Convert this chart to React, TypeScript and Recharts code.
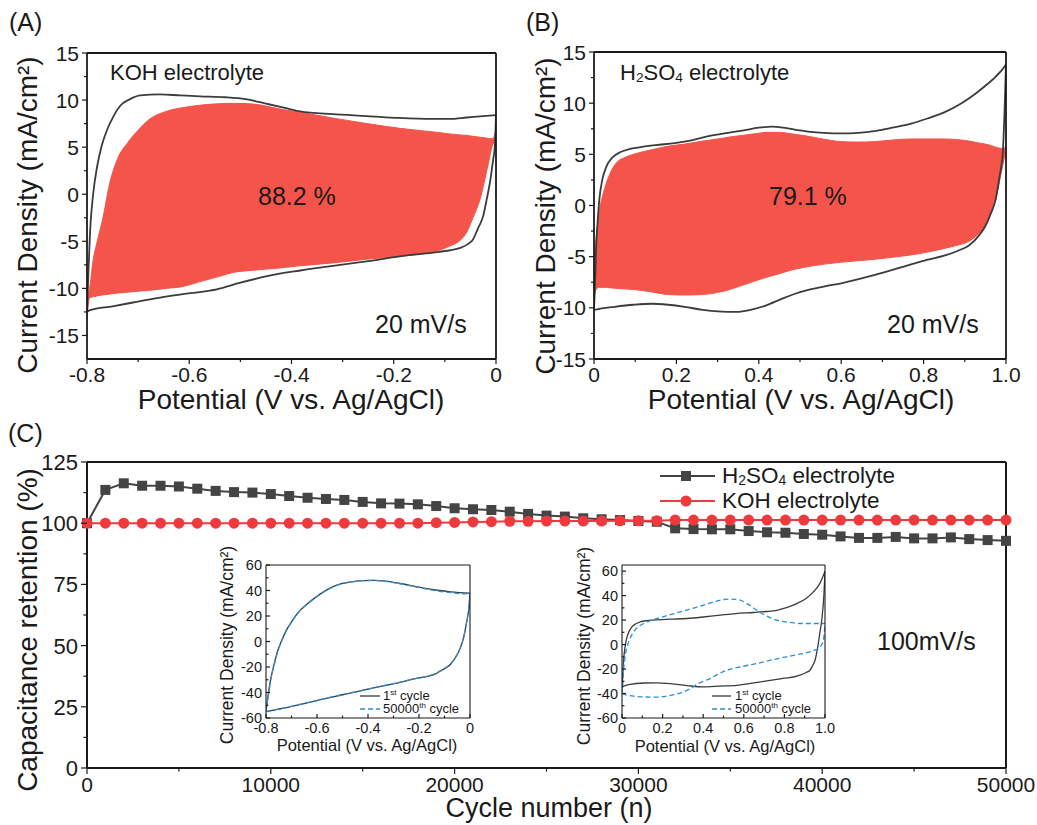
import React from 'react'
import { ComposedChart, Line, Area, XAxis, YAxis, ReferenceLine } from 'recharts'

const FONT = '"Liberation Sans", Arial, Helvetica, sans-serif'
const INK = '#1a1a1a'
const LOOP = '#3c3c3c'
const RED = '#f5544b'
const DOT_RED = '#ee3a3d'
const GREY = '#444444'
const BLUE = '#2a8fd8'

type P = [number, number]
type B = [number, number, number]

// (A) KOH 20 mV/s, first sweep: upper / lower branch, [V, mA/cm2]
const aTop: P[] = [
  [-0.8, -12.5], [-0.797, -8], [-0.794, -4], [-0.788, 0], [-0.78, 3], [-0.771, 5.2], [-0.761, 6.8],
  [-0.748, 8.3], [-0.735, 9.4], [-0.716, 10.1], [-0.696, 10.5], [-0.657, 10.6], [-0.618, 10.5],
  [-0.579, 10.4], [-0.53, 10.3], [-0.49, 10.1], [-0.448, 9.6], [-0.415, 9.2], [-0.383, 8.8],
  [-0.32, 8.5], [-0.252, 8.3], [-0.19, 8.1], [-0.123, 8.0], [-0.09, 8.0], [-0.057, 8.15], [-0.025, 8.3], [0, 8.4],
]
const aBottom: P[] = [
  [-0.8, -12.5], [-0.794, -12.3], [-0.75, -11.9], [-0.71, -11.5], [-0.66, -11.0], [-0.612, -10.6],
  [-0.58, -10.4], [-0.546, -10.1], [-0.5, -9.4], [-0.448, -8.7], [-0.383, -8.1], [-0.319, -7.6],
  [-0.25, -7.1], [-0.188, -6.6], [-0.123, -6.2], [-0.09, -5.95], [-0.07, -5.7], [-0.055, -5.3],
  [-0.045, -4.8], [-0.035, -3.6], [-0.025, -2.3], [-0.018, -0.5], [-0.012, 1.2], [-0.006, 3.5],
  [-0.002, 5.3], [0, 8.4],
]
// (A) retained area: [V, low, high]
const aBand: B[] = [
  [-0.8, -13.3, -11.0], [-0.795, -11.0, -10.0], [-0.788, -10.9, -7.0], [-0.78, -10.8, -5.0],
  [-0.77, -10.7, -2.8], [-0.755, -10.6, 1.3], [-0.74, -10.5, 3.8], [-0.72, -10.4, 5.5],
  [-0.7, -10.3, 6.8], [-0.677, -10.2, 8.0], [-0.645, -10.0, 8.8], [-0.612, -9.8, 9.2],
  [-0.58, -9.3, 9.45], [-0.546, -8.8, 9.6], [-0.514, -8.3, 9.65], [-0.48, -8.1, 9.6],
  [-0.417, -7.8, 9.0], [-0.383, -7.6, 8.7], [-0.32, -7.3, 8.1], [-0.252, -6.9, 7.5],
  [-0.188, -6.6, 7.0], [-0.154, -6.4, 6.8], [-0.12, -6.1, 6.6], [-0.09, -5.5, 6.4],
  [-0.07, -4.9, 6.3], [-0.057, -4.0, 6.25], [-0.045, -2.5, 6.15], [-0.031, -0.5, 6.05],
  [-0.016, 3.0, 5.95], [-0.006, 5.3, 5.9], [0, 5.6, 7.0],
]

// (B) H2SO4 20 mV/s
const bTop: P[] = [
  [0, -10.2], [0.003, -7], [0.005, -4.3], [0.009, -1.5], [0.013, 0.6], [0.02, 2.5], [0.03, 3.8],
  [0.045, 4.7], [0.063, 5.2], [0.085, 5.5], [0.113, 5.7], [0.15, 5.9], [0.196, 6.1], [0.24, 6.4],
  [0.281, 6.8], [0.325, 7.1], [0.364, 7.35], [0.4, 7.6], [0.432, 7.7], [0.46, 7.6], [0.49, 7.4],
  [0.525, 7.2], [0.558, 7.1], [0.6, 7.05], [0.641, 7.1], [0.685, 7.3], [0.724, 7.6], [0.77, 8.0],
  [0.809, 8.5], [0.85, 9.1], [0.892, 10.0], [0.925, 10.9], [0.95, 11.7], [0.975, 12.6], [0.997, 13.6], [1.0, 13.8],
]
const bBottom: P[] = [
  [0, -10.2], [0.013, -10.1], [0.05, -9.9], [0.096, -9.7], [0.14, -9.6], [0.18, -9.7], [0.22, -9.9],
  [0.264, -10.2], [0.3, -10.35], [0.347, -10.4], [0.38, -10.2], [0.415, -9.8], [0.457, -9.1],
  [0.49, -8.6], [0.525, -8.2], [0.56, -7.9], [0.6, -7.6], [0.68, -6.8], [0.766, -5.8], [0.81, -5.3],
  [0.85, -4.9], [0.885, -4.4], [0.91, -3.9], [0.937, -2.8], [0.95, -2.0], [0.963, -0.8], [0.975, 0.6],
  [0.985, 3.0], [0.992, 5.0], [1.0, 13.8],
]
const bBand: B[] = [
  [0, -9.0, -5.0], [0.005, -8.2, -3.3], [0.013, -8.0, -0.5], [0.02, -8.0, 0.8], [0.03, -8.0, 2.2],
  [0.042, -8.05, 3.4], [0.055, -8.1, 4.2], [0.075, -8.15, 4.7], [0.096, -8.2, 5.0], [0.14, -8.45, 5.45],
  [0.18, -8.7, 5.8], [0.22, -8.75, 6.0], [0.264, -8.7, 6.3], [0.3, -8.5, 6.5], [0.33, -8.2, 6.7],
  [0.36, -7.8, 6.85], [0.389, -7.4, 7.0], [0.42, -7.0, 7.15], [0.447, -6.7, 7.15], [0.48, -6.3, 7.0],
  [0.515, -6.0, 6.8], [0.555, -5.75, 6.5], [0.598, -5.55, 6.25], [0.64, -5.4, 6.2], [0.683, -5.25, 6.25],
  [0.725, -5.05, 6.4], [0.766, -4.85, 6.5], [0.81, -4.55, 6.5], [0.85, -4.2, 6.5], [0.88, -3.9, 6.45],
  [0.91, -3.5, 6.3], [0.935, -2.7, 6.1], [0.95, -2.0, 6.0], [0.965, -0.6, 5.85], [0.975, 0.6, 5.7],
  [0.985, 2.5, 5.6], [0.992, 3.9, 5.55], [1.0, 5.3, 5.8],
]

// (C) cycling, 100 mV/s
const cycles = [
  0, 1000, 2000, 3000, 4000, 5000, 6000, 7000, 8000, 9000, 10000, 11000, 12000, 13000, 14000, 15000,
  16000, 17000, 18000, 19000, 20000, 21000, 22000, 23000, 24000, 25000, 26000, 27000, 28000, 29000,
  30000, 31000, 32000, 33000, 34000, 35000, 36000, 37000, 38000, 39000, 40000, 41000, 42000, 43000,
  44000, 45000, 46000, 47000, 48000, 49000, 50000,
]
const h2so4Ret = [
  100, 113.6, 116.3, 115.3, 115.3, 115.0, 114.1, 113.2, 112.7, 112.5, 111.9, 111.1, 110.4, 109.9,
  109.5, 108.7, 108.1, 108.0, 107.7, 107.0, 106.1, 105.7, 105.4, 104.7, 103.8, 103.1, 102.7, 102.0,
  101.6, 101.3, 100.9, 100.6, 97.9, 97.6, 97.5, 97.5, 96.8, 96.3, 96.1, 95.6, 95.3, 94.6, 94.0,
  94.0, 94.4, 93.8, 93.8, 94.2, 93.5, 93.1, 92.8,
]
const kohRet = [
  100, 100, 100, 100, 100, 100, 100, 100, 100, 100, 100, 100, 100, 100, 100, 100, 100, 100, 100,
  100.2, 100.3, 100.5, 100.6, 100.8, 100.8, 100.9, 100.9, 100.9, 100.9, 101.0, 101.0, 101.0,
  101.3, 101.3, 101.3, 101.3, 101.3, 101.3, 101.3, 101.3, 101.3, 101.3, 101.3, 101.3, 101.3,
  101.3, 101.3, 101.3, 101.3, 101.3, 101.3,
]

// inset 1: KOH 100 mV/s, 1st and 50000th cycle
const i1FirstTop: P[] = [
  [-0.8, -55], [-0.79, -40], [-0.78, -28], [-0.767, -17], [-0.754, -7.3], [-0.738, 1], [-0.721, 8.5],
  [-0.695, 17], [-0.668, 24], [-0.635, 30], [-0.603, 35], [-0.57, 39.5], [-0.537, 43], [-0.5, 45.5],
  [-0.458, 47], [-0.42, 47.8], [-0.379, 48], [-0.33, 47.3], [-0.274, 45.5], [-0.22, 43.5],
  [-0.168, 41.5], [-0.12, 40], [-0.077, 39], [-0.04, 38.3], [0, 38],
]
const i1FirstBottom: P[] = [
  [-0.8, -55], [-0.735, -52.5], [-0.668, -49.5], [-0.6, -46.3], [-0.537, -43.4], [-0.47, -40.5],
  [-0.405, -37.6], [-0.34, -34.8], [-0.274, -32], [-0.21, -29], [-0.17, -27.5], [-0.142, -26],
  [-0.11, -22.5], [-0.077, -18], [-0.055, -12], [-0.037, -4.6], [-0.025, 3], [-0.017, 11],
  [-0.008, 21], [-0.004, 27], [0, 38],
]
const i1LastTop: P[] = [
  [-0.8, -55], [-0.79, -40.5], [-0.78, -28.5], [-0.767, -17.5], [-0.754, -7.8], [-0.738, 0.6], [-0.721, 8.2],
  [-0.695, 16.8], [-0.668, 23.8], [-0.635, 29.8], [-0.603, 34.8], [-0.57, 39.3], [-0.537, 42.8], [-0.5, 45.4],
  [-0.458, 46.9], [-0.42, 47.7], [-0.379, 47.9], [-0.33, 47.2], [-0.274, 45.3], [-0.22, 43.2],
  [-0.168, 41.0], [-0.12, 39.4], [-0.077, 38.3], [-0.04, 37.5], [0, 37.3],
]
const i1LastBottom: P[] = [
  [-0.8, -55], [-0.735, -52.4], [-0.668, -49.4], [-0.6, -46.2], [-0.537, -43.3], [-0.47, -40.4],
  [-0.405, -37.5], [-0.34, -34.7], [-0.274, -31.9], [-0.21, -28.9], [-0.17, -27.3], [-0.142, -25.7],
  [-0.11, -22.2], [-0.077, -17.6], [-0.055, -11.6], [-0.037, -4.2], [-0.025, 3.3], [-0.017, 11.2],
  [-0.008, 21], [-0.004, 27], [0, 37.3],
]

// inset 2: H2SO4 100 mV/s, 1st and 50000th cycle
const i2FirstTop: P[] = [
  [0, -35], [0.004, -25], [0.008, -12.8], [0.015, -2], [0.025, 6.3], [0.036, 11], [0.049, 14.5],
  [0.068, 17], [0.09, 18.5], [0.12, 19.5], [0.156, 20], [0.24, 20.7], [0.32, 21.3], [0.4, 22.5],
  [0.484, 24], [0.56, 25.3], [0.648, 26.2], [0.71, 27], [0.762, 28], [0.81, 30.2], [0.861, 33.5],
  [0.905, 37.5], [0.943, 43], [0.975, 50], [1.0, 60],
]
const i2FirstBottom: P[] = [
  [0, -35], [0.008, -34], [0.04, -32.5], [0.107, -31.4], [0.17, -31.3], [0.238, -31.9], [0.32, -33.5],
  [0.402, -34.6], [0.48, -34], [0.566, -33.3], [0.65, -31.3], [0.73, -29.2], [0.8, -27.5], [0.85, -26.3],
  [0.877, -25], [0.905, -23], [0.926, -21], [0.94, -17], [0.951, -12.8], [0.96, -6], [0.967, 0.8],
  [0.975, 10], [0.984, 20], [0.995, 41.7], [1.0, 60],
]
const i2LastTop: P[] = [
  [0, -40], [0.004, -32], [0.008, -21], [0.015, -10], [0.025, -1.9], [0.04, 5], [0.057, 10.4],
  [0.08, 14.5], [0.107, 17.2], [0.14, 19.5], [0.172, 21.3], [0.23, 24], [0.287, 26.7], [0.345, 29.5],
  [0.402, 32.2], [0.45, 34.8], [0.5, 36.8], [0.54, 37.2], [0.582, 36.3], [0.62, 33], [0.664, 28],
  [0.71, 23.5], [0.762, 20], [0.82, 18.2], [0.893, 17.2], [0.95, 17.2], [1.0, 17.2],
]
const i2LastBottom: P[] = [
  [0, -40], [0.008, -40.6], [0.05, -42], [0.107, -42.8], [0.17, -43], [0.238, -41.5], [0.29, -39.5],
  [0.336, -36], [0.38, -31.5], [0.434, -27.8], [0.475, -24], [0.516, -21], [0.59, -18], [0.664, -15.5],
  [0.74, -12.5], [0.811, -10], [0.87, -8], [0.926, -6], [0.95, -4.5], [0.967, -3.3], [0.98, -1],
  [0.992, 3.5], [1.0, 17.2],
]

// ticks
const cvYMajor = [15, 10, 5, 0, -5, -10, -15]
const cvYMinor = [12.5, 7.5, 2.5, -2.5, -7.5, -12.5]
const cvYLabels = ['15', '10', '5', '0', '-5', '-10', '-15']
const kohXMajor = [-0.8, -0.6, -0.4, -0.2, 0]
const kohXMinor = [-0.7, -0.5, -0.3, -0.1]
const kohXLabels = ['-0.8', '-0.6', '-0.4', '-0.2', '0']
const acidXMajor = [0, 0.2, 0.4, 0.6, 0.8, 1.0]
const acidXMinor = [0.1, 0.3, 0.5, 0.7, 0.9]
const acidXLabels = ['0', '0.2', '0.4', '0.6', '0.8', '1.0']
const insetYMajor = [60, 40, 20, 0, -20, -40, -60]
const insetYMinor = [50, 30, 10, -10, -30, -50]
const insetYLabels = ['60', '40', '20', '0', '-20', '-40', '-60']
const cXMajor = [0, 10000, 20000, 30000, 40000, 50000]
const cXMinor = [5000, 15000, 25000, 35000, 45000]
const cXLabels = ['0', '10000', '20000', '30000', '40000', '50000']
const cYMajor = [0, 25, 50, 75, 100, 125]
const cYMinor = [12.5, 37.5, 62.5, 87.5, 112.5]
const cYLabels = ['0', '25', '50', '75', '100', '125']

const pts = (a: P[]) => a.map(([x, y]) => ({ x, y }))
const band = (a: B[]) => a.map(([x, lo, hi]) => ({ x, r: [lo, hi] }))

type TickCfg = { side: 'x' | 'y'; major: number[]; labels: string[]; font: number; len: number; inward?: boolean }

// one tick renderer per axis: tick line (short for minor) plus label for major values
function makeTick(c: TickCfg) {
  return (props: any) => {
    const { x, y, payload, index } = props
    const v = payload.value as number
    const i = c.major.findIndex((m) => Math.abs(m - v) < 1e-6)
    const l = i >= 0 ? c.len : c.len * 0.6
    const d = c.inward ? -1 : 1
    if (c.side === 'x') {
      const gap = c.inward ? 4 : c.len + 2.5
      return (
        <g key={`x${index}`}>
          <line x1={x} y1={y} x2={x} y2={y + d * l} stroke={INK} strokeWidth={1.2} />
          {i >= 0 && (
            <text x={x} y={y + gap + c.font * 0.76} textAnchor="middle" fontSize={c.font} fontFamily={FONT} fill={INK}>
              {c.labels[i]}
            </text>
          )}
        </g>
      )
    }
    const gap = c.inward ? 4 : c.len + 3
    return (
      <g key={`y${index}`}>
        <line x1={x} y1={y} x2={x - d * l} y2={y} stroke={INK} strokeWidth={1.2} />
        {i >= 0 && (
          <text x={x - gap} y={y + c.font * 0.36} textAnchor="end" fontSize={c.font} fontFamily={FONT} fill={INK}>
            {c.labels[i]}
          </text>
        )}
      </g>
    )
  }
}

type Loop = { top: P[]; bottom: P[]; color: string; dash?: string; w: number }

type CvProps = {
  left: number; top: number; width: number; height: number
  margin: { top: number; right: number; bottom: number; left: number }
  yW: number; xH: number
  xDomain: [number, number]; yDomain: [number, number]
  xMajor: number[]; xMinor: number[]; xLabels: string[]
  yMajor: number[]; yMinor: number[]; yLabels: string[]
  font: number; len: number; inward?: boolean; frame: number
  fill?: B[]; loops: Loop[]
}

function CvPlot(p: CvProps) {
  return (
    <div style={{ position: 'absolute', left: p.left, top: p.top }}>
      <ComposedChart width={p.width} height={p.height} margin={p.margin} data={p.fill ? band(p.fill) : []}>
        <XAxis
          type="number" dataKey="x" domain={p.xDomain} allowDataOverflow
          ticks={[...p.xMajor, ...p.xMinor]} interval={0} height={p.xH}
          tickSize={0} tickMargin={0} tickLine={false}
          axisLine={{ stroke: INK, strokeWidth: p.frame }}
          tick={makeTick({ side: 'x', major: p.xMajor, labels: p.xLabels, font: p.font, len: p.len, inward: p.inward })}
        />
        <YAxis
          type="number" domain={p.yDomain} allowDataOverflow
          ticks={[...p.yMajor, ...p.yMinor]} interval={0} width={p.yW}
          tickSize={0} tickMargin={0} tickLine={false}
          axisLine={{ stroke: INK, strokeWidth: p.frame }}
          tick={makeTick({ side: 'y', major: p.yMajor, labels: p.yLabels, font: p.font, len: p.len, inward: p.inward })}
        />
        {p.fill && (
          <Area dataKey="r" type="monotone" fill={RED} fillOpacity={1} stroke={RED} strokeWidth={1}
            isAnimationActive={false} dot={false} activeDot={false} />
        )}
        {p.loops.flatMap((l, i) => [
          <Line key={`t${i}`} data={pts(l.top)} dataKey="y" type="monotone" stroke={l.color} strokeWidth={l.w}
            strokeDasharray={l.dash} dot={false} activeDot={false} isAnimationActive={false} />,
          <Line key={`b${i}`} data={pts(l.bottom)} dataKey="y" type="monotone" stroke={l.color} strokeWidth={l.w}
            strokeDasharray={l.dash} dot={false} activeDot={false} isAnimationActive={false} />,
        ])}
        <ReferenceLine y={p.yDomain[1]} stroke={INK} strokeWidth={p.frame} />
        <ReferenceLine x={p.xDomain[1]} stroke={INK} strokeWidth={p.frame} />
      </ComposedChart>
    </div>
  )
}

const retention = cycles.map((n, i) => ({ n, h2so4: h2so4Ret[i], koh: kohRet[i] }))

const squareDot = (d: any) => (
  <rect key={`sq${d.index}`} x={d.cx - 5} y={d.cy - 5} width={10} height={10} fill={GREY} />
)

function Retention() {
  return (
    <div style={{ position: 'absolute', left: 0, top: 420 }}>
      <ComposedChart width={1037} height={405} margin={{ top: 42, right: 31, bottom: 27, left: 47 }} data={retention}>
        <XAxis
          type="number" dataKey="n" domain={[0, 50000]} ticks={[...cXMajor, ...cXMinor]} interval={0} height={30}
          tickSize={0} tickMargin={0} tickLine={false} axisLine={{ stroke: INK, strokeWidth: 2 }}
          tick={makeTick({ side: 'x', major: cXMajor, labels: cXLabels, font: 21, len: 6 })}
        />
        <YAxis
          type="number" domain={[0, 125]} ticks={[...cYMajor, ...cYMinor]} interval={0} width={40}
          tickSize={0} tickMargin={0} tickLine={false} axisLine={{ stroke: INK, strokeWidth: 2 }}
          tick={makeTick({ side: 'y', major: cYMajor, labels: cYLabels, font: 22, len: 6 })}
        />
        <Line dataKey="h2so4" type="linear" stroke={GREY} strokeWidth={2} dot={squareDot} activeDot={false}
          isAnimationActive={false} />
        <Line dataKey="koh" type="linear" stroke={DOT_RED} strokeWidth={2}
          dot={{ r: 5.5, fill: DOT_RED, stroke: DOT_RED, strokeWidth: 0 }} activeDot={false} isAnimationActive={false} />
        <ReferenceLine y={125} stroke={INK} strokeWidth={2} />
        <ReferenceLine x={50000} stroke={INK} strokeWidth={2} />
      </ComposedChart>
    </div>
  )
}

function Txt({ x, y, s, a = 'start', rot = false, children }: any) {
  return (
    <text x={x} y={y} fontSize={s} textAnchor={a} fill={INK} fontFamily={FONT}
      transform={rot ? `rotate(-90 ${x} ${y})` : undefined}>
      {children}
    </text>
  )
}

function Acid({ x, y, s }: { x: number; y: number; s: number }) {
  const sub = s * 0.62
  const dy = s * 0.1
  return (
    <text x={x} y={y} fontSize={s} fill={INK} fontFamily={FONT}>
      H<tspan fontSize={sub} dy={dy}>2</tspan><tspan dy={-dy}>SO</tspan><tspan fontSize={sub} dy={dy}>4</tspan>
      <tspan dy={-dy}> electrolyte</tspan>
    </text>
  )
}

function Cycle({ x, y, n, sup }: { x: number; y: number; n: string; sup: string }) {
  return (
    <text x={x} y={y} fontSize={13} fill={INK} fontFamily={FONT}>
      {n}<tspan fontSize={8} dy={-5}>{sup}</tspan><tspan dy={5}> cycle</tspan>
    </text>
  )
}

function Overlay() {
  return (
    <svg width={1037} height={825} style={{ position: 'absolute', left: 0, top: 0, pointerEvents: 'none' }}>
      {/* panel letters */}
      <Txt x={9} y={31} s={25}>(A)</Txt>
      <Txt x={526} y={31} s={25}>(B)</Txt>
      <Txt x={8} y={442} s={25}>(C)</Txt>

      {/* (A) */}
      <Txt x={110} y={80} s={22}>KOH electrolyte</Txt>
      <Txt x={258} y={205} s={25}>88.2 %</Txt>
      <Txt x={375} y={333} s={25}>20 mV/s</Txt>
      <Txt x={291} y={409} s={28} a="middle">Potential (V vs. Ag/AgCl)</Txt>
      <Txt x={37} y={215} s={28} a="middle" rot>Current Density (mA/cm²)</Txt>

      {/* (B) */}
      <Acid x={620} y={80} s={22} />
      <Txt x={769} y={205} s={25}>79.1 %</Txt>
      <Txt x={887} y={333} s={25}>20 mV/s</Txt>
      <Txt x={801} y={409} s={28} a="middle">Potential (V vs. Ag/AgCl)</Txt>
      <Txt x={555} y={216} s={28} a="middle" rot>Current Density (mA/cm²)</Txt>

      {/* (C) */}
      <Txt x={37} y={630} s={28} a="middle" rot>Capacitance retention (%)</Txt>
      <Txt x={549} y={817} s={27} a="middle">Cycle number (n)</Txt>
      <Txt x={877} y={650} s={25}>100mV/s</Txt>
      <line x1={660} y1={476} x2={715} y2={476} stroke={GREY} strokeWidth={2} />
      <rect x={681} y={471} width={10} height={10} fill={GREY} />
      <Acid x={722} y={483} s={22.5} />
      <line x1={660} y1={501} x2={715} y2={501} stroke={DOT_RED} strokeWidth={2} />
      <circle cx={686} cy={501} r={5.5} fill={DOT_RED} />
      <Txt x={722} y={508} s={22.5}>KOH electrolyte</Txt>

      {/* inset 1 */}
      <Txt x={367} y={751} s={16.5} a="middle">Potential (V vs. Ag/AgCl)</Txt>
      <Txt x={233} y={645} s={17.5} a="middle" rot>Current Density (mA/cm²)</Txt>
      <line x1={360} y1={696} x2={380} y2={696} stroke={LOOP} strokeWidth={1.3} />
      <Cycle x={383} y={700} n="1" sup="st" />
      <line x1={360} y1={709} x2={380} y2={709} stroke={BLUE} strokeWidth={1.3} strokeDasharray="5 3" />
      <Cycle x={383} y={713} n="50000" sup="th" />

      {/* inset 2 */}
      <Txt x={725} y={752} s={16.5} a="middle">Potential (V vs. Ag/AgCl)</Txt>
      <Txt x={590} y={646} s={17.5} a="middle" rot>Current Density (mA/cm²)</Txt>
      <line x1={712} y1={696} x2={731} y2={696} stroke={LOOP} strokeWidth={1.3} />
      <Cycle x={735} y={700} n="1" sup="st" />
      <line x1={712} y1={709} x2={731} y2={709} stroke={BLUE} strokeWidth={1.3} strokeDasharray="5 3" />
      <Cycle x={735} y={713} n="50000" sup="th" />
    </svg>
  )
}

export default function App() {
  return (
    <div style={{ position: 'absolute', left: 0, top: 0, width: 1037, height: 825, background: '#fff', fontFamily: FONT }}>
      <CvPlot
        left={0} top={0} width={520} height={420}
        margin={{ top: 53, right: 24, bottom: 31, left: 47 }} yW={40} xH={30}
        xDomain={[-0.8, 0]} yDomain={[-17.5, 15]}
        xMajor={kohXMajor} xMinor={kohXMinor} xLabels={kohXLabels}
        yMajor={cvYMajor} yMinor={cvYMinor} yLabels={cvYLabels}
        font={21} len={5} frame={1.8}
        fill={aBand}
        loops={[{ top: aTop, bottom: aBottom, color: LOOP, w: 1.8 }]}
      />
      <CvPlot
        left={520} top={0} width={517} height={420}
        margin={{ top: 52, right: 31, bottom: 31, left: 34 }} yW={40} xH={30}
        xDomain={[0, 1]} yDomain={[-15, 15]}
        xMajor={acidXMajor} xMinor={acidXMinor} xLabels={acidXLabels}
        yMajor={cvYMajor} yMinor={cvYMinor} yLabels={cvYLabels}
        font={21} len={5} frame={1.8}
        fill={bBand}
        loops={[{ top: bTop, bottom: bBottom, color: LOOP, w: 1.8 }]}
      />
      <Retention />
      <CvPlot
        left={200} top={540} width={290} height={220}
        margin={{ top: 25, right: 20, bottom: 22, left: 36 }} yW={30} xH={20}
        xDomain={[-0.8, 0]} yDomain={[-60, 60]}
        xMajor={kohXMajor} xMinor={kohXMinor} xLabels={kohXLabels}
        yMajor={insetYMajor} yMinor={insetYMinor} yLabels={insetYLabels}
        font={14.5} len={4} inward frame={1.1}
        loops={[
          { top: i1FirstTop, bottom: i1FirstBottom, color: LOOP, w: 1.3 },
          { top: i1LastTop, bottom: i1LastBottom, color: BLUE, w: 1.3, dash: '5 3' },
        ]}
      />
      <CvPlot
        left={560} top={540} width={290} height={220}
        margin={{ top: 25, right: 25, bottom: 22, left: 32 }} yW={30} xH={20}
        xDomain={[0, 1]} yDomain={[-60, 65]}
        xMajor={acidXMajor} xMinor={acidXMinor} xLabels={acidXLabels}
        yMajor={insetYMajor} yMinor={insetYMinor} yLabels={insetYLabels}
        font={14.5} len={4} inward frame={1.1}
        loops={[
          { top: i2FirstTop, bottom: i2FirstBottom, color: LOOP, w: 1.3 },
          { top: i2LastTop, bottom: i2LastBottom, color: BLUE, w: 1.3, dash: '5 3' },
        ]}
      />
      <Overlay />
    </div>
  )
}
